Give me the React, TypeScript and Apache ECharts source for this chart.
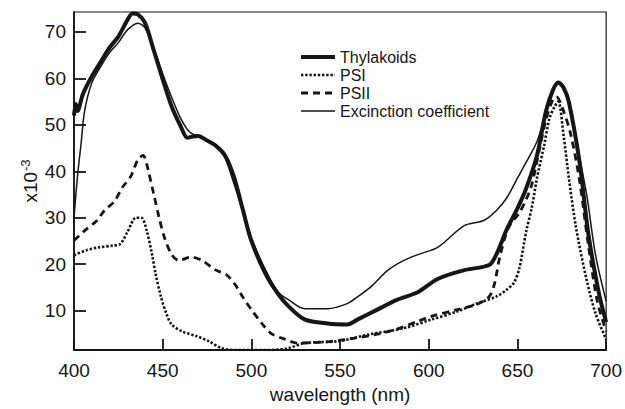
import React, { useEffect, useRef } from "react";
import * as echarts from "echarts";

const xTicks = [400, 450, 500, 550, 600, 650, 700];
const yTicks = [10, 20, 30, 40, 50, 60, 70];

const thylakoidsX = [400, 401, 402, 405, 410, 415, 420, 425, 430, 433, 436, 440, 445, 450, 455, 460, 464, 467, 470, 475, 480, 485, 490, 495, 500, 508, 515, 521, 530, 543, 554, 560, 571, 582, 594, 605, 620, 634, 638, 644, 650, 655, 661, 666, 670, 673, 676, 679, 685, 690, 696, 700];
const thylakoidsY = [52, 54.5, 53, 56.6, 60.4, 63.5, 66.6, 69, 72.5, 74, 73.8, 72, 66, 59.8, 54, 49.8, 47.2, 47.5, 47.6, 46.6, 45.5, 43.5, 39, 32, 25, 17.9, 13.6, 10.9, 8.1, 7.2, 7, 8.1, 10.2, 12.3, 14, 16.8, 18.7, 19.8, 22, 27.5, 32, 36.4, 43.4, 52.8, 57.5, 59.1, 58, 54.9, 42, 26.4, 13.6, 7.5];

const psiX = [400, 407, 414, 422, 426, 430, 435, 438, 441, 444, 446, 449, 452, 455, 461, 469, 476, 483, 491, 510, 521, 530, 549, 567, 586, 601, 616, 627, 638, 644, 648, 651, 655, 658, 661, 665, 668, 671, 673, 676, 679, 683, 689, 694, 700];
const psiY = [21.9, 23, 23.6, 24, 24.3, 26.8, 30, 30, 27.2, 22.1, 17.9, 13, 9.4, 7, 5.5, 4.5, 3.4, 1.9, 1.5, 1.5, 1.9, 3, 3.4, 4.9, 6.2, 8, 9.8, 11.5, 13, 14.5, 16, 19, 27.2, 32, 38.5, 45.5, 51.3, 54, 55, 47.7, 38.5, 27.9, 16.6, 9.4, 3.8];

const psiiX = [400, 406, 413, 417, 423, 427, 432, 436, 439, 441, 442, 445, 448, 451, 455, 459, 466, 472, 480, 486, 491, 495, 500, 506, 511, 519, 526, 540, 554, 571, 582, 594, 601, 616, 627, 634, 637, 640, 645, 651, 655, 658, 662, 666, 670, 672, 675, 680, 685, 690, 695, 700];
const psiiY = [25.1, 27.2, 29.4, 31.5, 33.6, 36.4, 38.9, 42.5, 43.4, 41.5, 40, 35, 30, 25.7, 22.1, 20.8, 21.5, 20.8, 18.7, 17.7, 15.5, 13, 10.2, 7.2, 5.1, 3.8, 3, 3.2, 3.8, 4.9, 6, 7.7, 8.7, 10.2, 11.3, 13, 15.7, 21.5, 27.9, 31, 34, 37, 44, 51, 55.5, 56, 54, 48, 38, 24, 12, 5.5];

const extX = [400, 402, 404, 406, 410, 415, 420, 425, 430, 436, 440, 445, 450, 455, 460, 465, 470, 475, 480, 485, 490, 493, 500, 508, 515, 521, 530, 543, 554, 560, 567, 577, 586, 595, 605, 620, 631, 638, 644, 650, 655, 661, 666, 670, 673, 677, 680, 683, 689, 694, 700];
const extY = [30, 39, 46, 53, 59, 62.5, 65.5, 67.7, 70.4, 71.9, 70.9, 66.5, 61, 56, 51.5, 48.5, 47.5, 46.5, 45.2, 43, 37.5, 34, 25.7, 18.7, 14, 12.3, 10.4, 10.4, 11.5, 13, 15, 18.7, 20.8, 22.2, 23.6, 28.3, 29.4, 31.5, 34.3, 38.5, 42, 46.4, 52.5, 57, 58.8, 57.5, 54, 47, 35, 22, 12];

const seriesNames = ["Thylakoids", "PSI", "PSII", "Excinction coefficient"];

const zip = (xs: number[], ys: number[]) => xs.map((x, i) => [x, ys[i]]);

const FONT = "'Liberation Sans', Arial, Helvetica, sans-serif";
const INK = "#161616";

const lineStyles = [
  { color: INK, width: 4, type: "solid" },
  { color: INK, width: 2.6, type: [2.4, 1.8] },
  { color: INK, width: 2.8, type: [7, 5] },
  { color: INK, width: 1.5, type: "solid" },
];
const seriesData = [zip(thylakoidsX, thylakoidsY), zip(psiX, psiY), zip(psiiX, psiiY), zip(extX, extY)];

export default function App() {
  const ref = useRef<HTMLDivElement>(null);
  useEffect(() => {
    if (!ref.current) return;
    const chart = echarts.init(ref.current, undefined, { renderer: "svg" });
    chart.setOption({
      animation: false,
      backgroundColor: "#ffffff",
      grid: { left: 74, right: 15, top: 12, bottom: 55, show: true, borderColor: INK, borderWidth: 1.2, backgroundColor: "transparent" },
      legend: {
        orient: "vertical",
        left: 299,
        top: 49,
        padding: 0,
        itemWidth: 34,
        itemHeight: 14,
        itemGap: 2,
        itemStyle: { color: "rgba(0,0,0,0)", borderWidth: 0, opacity: 0 },
        data: seriesNames.map((n, i) => ({ name: n, lineStyle: { ...lineStyles[i] } })),
        textStyle: { fontFamily: FONT, fontSize: 16, color: INK, lineHeight: 16 },
      },
      xAxis: {
        type: "value",
        min: 400,
        max: 700,
        interval: 50,
        name: "wavelength (nm)",
        nameLocation: "middle",
        nameGap: 35,
        nameMoveOverlap: false,
        nameTextStyle: { fontFamily: FONT, fontSize: 19, color: INK },
        axisLine: { show: true, lineStyle: { color: INK, width: 1.8 } },
        axisTick: { show: true, inside: true, length: 11, lineStyle: { color: INK, width: 1.8 } },
        axisLabel: { fontFamily: FONT, fontSize: 19, color: INK, margin: 11, showMinLabel: true, showMaxLabel: true },
        splitLine: { show: false },
      },
      yAxis: {
        type: "value",
        min: 1.5,
        max: 74.3,
        name: "x10{sup|-3}",
        nameLocation: "middle",
        nameGap: 32,
        nameMoveOverlap: false,
        nameRotate: 90,
        nameTextStyle: {
          fontFamily: FONT,
          fontSize: 19,
          color: INK,
          rich: { sup: { fontFamily: FONT, fontSize: 13, color: INK, verticalAlign: "top", padding: [0, 0, 10, 1] } },
        },
        axisLine: { show: true, lineStyle: { color: INK, width: 1.8 } },
        axisTick: { show: true, inside: true, length: 12, customValues: yTicks, lineStyle: { color: INK, width: 1.8 } },
        axisLabel: { fontFamily: FONT, fontSize: 19, color: INK, margin: 8, customValues: yTicks },
        splitLine: { show: false },
      },
      series: seriesNames.map((n, i) => ({
        type: "line",
        name: n,
        showSymbol: false,
        symbol: "none",
        smooth: 0.3,
        z: 3,
        data: seriesData[i],
        lineStyle: lineStyles[i],
        itemStyle: { color: INK },
      })),
    });
    return () => chart.dispose();
  }, []);
  return <div ref={ref} style={{ position: "fixed", left: 0, top: 0, width: 625, height: 409 }} />;
}
